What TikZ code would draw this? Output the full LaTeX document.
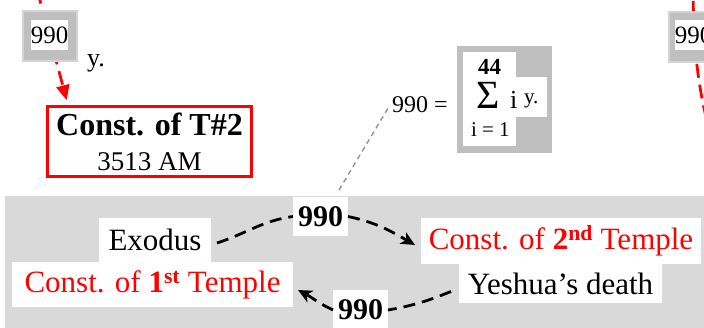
\documentclass[tikz,border=0pt]{standalone}
\usepackage{fontspec}
\setmainfont{Liberation Serif}
\usetikzlibrary{arrows.meta}
\newcommand\FS[1]{\fontsize{#1}{#1}\selectfont}
\definecolor{bandgray}{gray}{0.85}
\definecolor{boxgray}{gray}{0.75}
\definecolor{boxedge}{gray}{0.83}
\definecolor{lingray}{gray}{0.55}
\begin{document}
\begin{tikzpicture}[x=1pt,y=1pt,
  wbox/.style={fill=white,inner sep=0pt,outer sep=0pt},
  txt/.style={inner sep=0pt,outer sep=0pt,anchor=base west},
  graybox/.style={fill=boxgray,draw=boxedge,line width=2pt,inner sep=0pt,minimum width=54pt,minimum height=50pt},
  reddash/.style={red,line width=2.8pt,dash pattern=on 14pt off 7pt},
  blkdash/.style={black,line width=2.8pt,dash pattern=on 12pt off 7pt},
  blktip/.style={-{Stealth[length=14pt,width=13pt,inset=4pt]}}]
\useasboundingbox (0,0) rectangle (704,-328);
% band
\fill[bandgray] (5,-196) rectangle (712,-336);
% red box T#2
\node[draw=red,line width=3pt,fill=white,minimum width=204pt,minimum height=70pt,inner sep=0pt,align=center,font=\FS{32}] (tb) at (149.5,-141.5)
  {\textbf{Const. of T\#2}\\[3pt]{\FS{27}3513 AM}};
% top-left red dashed arrow
\coordinate (ra) at (37.2,10);
\draw[reddash,-{Triangle[length=15pt,width=13pt]},shorten >=5pt] (ra) -- ([xshift=22pt]tb.north west);
\node[graybox] (g1) at (50,-36) {};
\node[wbox,minimum width=37pt,minimum height=30pt,font=\FS{25}] (n1) at (49.5,-35) {990};
\node[txt,font=\FS{26}] (yy) at (87,-67) {y.};
% top-right
\coordinate (rb1) at (693,20);
\coordinate (rb2) at (715,-150);
\draw[reddash] (rb1) .. controls (693,-60) and (700,-100) .. (rb2);
\node[graybox] (g2) at (696,-37) {};
\node[wbox,minimum width=37pt,minimum height=30pt,font=\FS{25}] (n2) at (693.5,-35.5) {990};
% sum box
\node[txt,font=\FS{24}] (eq) at (392,-113) {990 =};
\node[fill=boxgray,minimum width=95pt,minimum height=107pt,inner sep=0pt] (sb) at (504.5,-99.5) {};
\node[wbox,minimum width=53pt,minimum height=94pt] (sw1) at (489.5,-99) {};
\node[wbox,minimum width=31pt,minimum height=40pt] (sw2) at (531.5,-97) {};
\node[txt,font=\FS{23}\bfseries] (s44) at (478,-75) {44};
\node[txt,font=\FS{40}] (sig) at (476,-109) {Σ};
\node[txt,font=\FS{26}] (si) at (510,-109) {i};
\node[txt,font=\FS{21}] (sy) at (524,-104) {y.};
\node[txt,font=\FS{21}] (s1) at (471,-137) {i = 1};
% band nodes
\node[wbox,minimum width=112pt,minimum height=44pt,font=\FS{31}] (exo) at (155,-240) {Exodus};
\node[wbox,minimum width=281pt,minimum height=45pt,font=\FS{31},text=red] (t1) at (152.5,-284.5) {Const. of \textbf{1\textsuperscript{st}} Temple};
\node[wbox,minimum width=55pt,minimum height=39pt,font=\FS{30}\bfseries] (lab1) at (320.5,-216.5) {990};
\node[wbox,minimum width=280pt,minimum height=46pt,font=\FS{31},text=red] (t2) at (561,-241) {Const. of \textbf{2\textsuperscript{nd}} Temple};
\node[wbox,minimum width=203pt,minimum height=39pt,font=\FS{31}] (yesh) at (560.5,-283.5) {Yeshua’s death};
\node[wbox,minimum width=55pt,minimum height=40pt,font=\FS{30}\bfseries] (lab2) at (360.5,-310) {990};
% gray dashed pointer
\draw[lingray,line width=1.3pt,dash pattern=on 5pt off 4pt] ([xshift=18.5pt,yshift=7pt]lab1.north) -- ([xshift=-4pt,yshift=5pt]eq.south west);
% black arrows
\draw[blkdash] ([xshift=6pt,yshift=-3pt]exo.east) to[out=18,in=188] (lab1.west);
\draw[blkdash,blktip] (lab1.east) to[out=-12,in=150] ([xshift=-6pt,yshift=-4pt]t2.west);
\draw[blkdash] ([xshift=-8pt,yshift=-8pt]yesh.west) to[out=202,in=10] (lab2.east);
\draw[blkdash,blktip] (lab2.west) to[out=155,in=-28] ([xshift=5pt,yshift=-5.5pt]t1.east);
\end{tikzpicture}
\end{document}
